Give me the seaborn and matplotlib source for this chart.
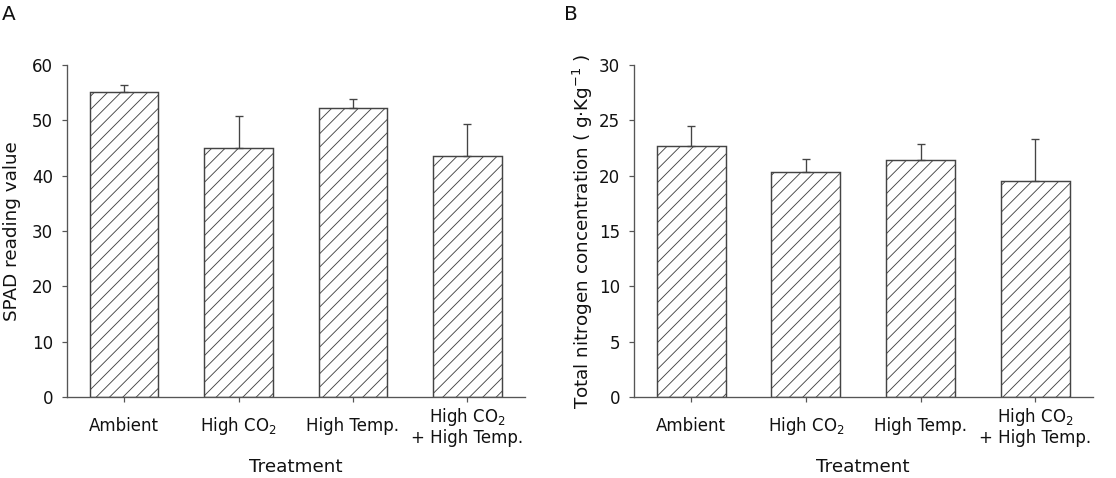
import numpy as np
import pandas as pd
import matplotlib
matplotlib.use("Agg")
import matplotlib.pyplot as plt
import seaborn as sns

# treatments on the x axis
treatments = ["Ambient", "High CO$_2$", "High Temp.", "High CO$_2$\n+ High Temp."]

# panel A: SPAD reading
spad_mean = [55.1, 45.0, 52.3, 43.5]
spad_err = [1.3, 5.7, 1.6, 5.9]

# panel B: total nitrogen concentration
tn_mean = [22.7, 20.3, 21.4, 19.5]
tn_err = [1.8, 1.2, 1.5, 3.8]

sns.set_style("ticks")
plt.rcParams["font.family"] = ["DejaVu Sans"]
plt.rcParams["hatch.linewidth"] = 0.8
plt.rcParams["hatch.color"] = "#444444"

edge = "#444444"
txt = "#111111"

fig = plt.figure(figsize=(1116 / 80, 478 / 80), dpi=80)
axA = fig.add_axes([0.060, 0.1695, 0.410, 0.6945])
axB = fig.add_axes([0.568, 0.1695, 0.411, 0.6945])


def draw(ax, means, errs, ymax, step, ylabel):
    df = pd.DataFrame({"treatment": treatments, "value": means})
    sns.barplot(data=df, x="treatment", y="value", ax=ax, color="white",
                saturation=1, edgecolor=edge, linewidth=1.3, hatch="//",
                width=0.6)
    ax.errorbar(np.arange(len(means)), means,
                yerr=[np.zeros(len(errs)), errs], fmt="none",
                ecolor=edge, elinewidth=1.2, capsize=3.6, capthick=1.2)
    ax.set_xlim(-0.5, 3.5)
    ax.set_ylim(0, ymax)
    ax.set_yticks(np.arange(0, ymax + 0.1, step))
    sns.despine(ax=ax)
    for s in ["left", "bottom"]:
        ax.spines[s].set_color("#555555")
        ax.spines[s].set_linewidth(1.2)
    ax.tick_params(axis="both", direction="out", length=4.5, width=1.1,
                   color="#555555", labelsize=15, labelcolor=txt)
    ax.tick_params(axis="y", pad=8)
    ax.tick_params(axis="x", pad=22)
    for lab in ax.get_xticklabels():
        lab.set_va("center")
        lab.set_linespacing(1.1)
    ax.set_xlabel("Treatment", fontsize=16.5, color=txt)
    ax.xaxis.set_label_coords(0.5, -0.185)
    ax.set_ylabel(ylabel, fontsize=16.5, color=txt)


draw(axA, spad_mean, spad_err, 60, 10, "SPAD reading value")
draw(axB, tn_mean, tn_err, 30, 5,
     "Total nitrogen concentration ( g$\\cdot$Kg$^{-1}$ )")
axA.yaxis.set_label_coords(-0.10, 0.5)
axB.yaxis.set_label_coords(-0.085, 0.5)

fig.text(0.002, 0.99, "A", fontsize=18, color=txt, va="top", ha="left")
fig.text(0.505, 0.99, "B", fontsize=18, color=txt, va="top", ha="left")

fig.savefig("out.png", dpi=80)
